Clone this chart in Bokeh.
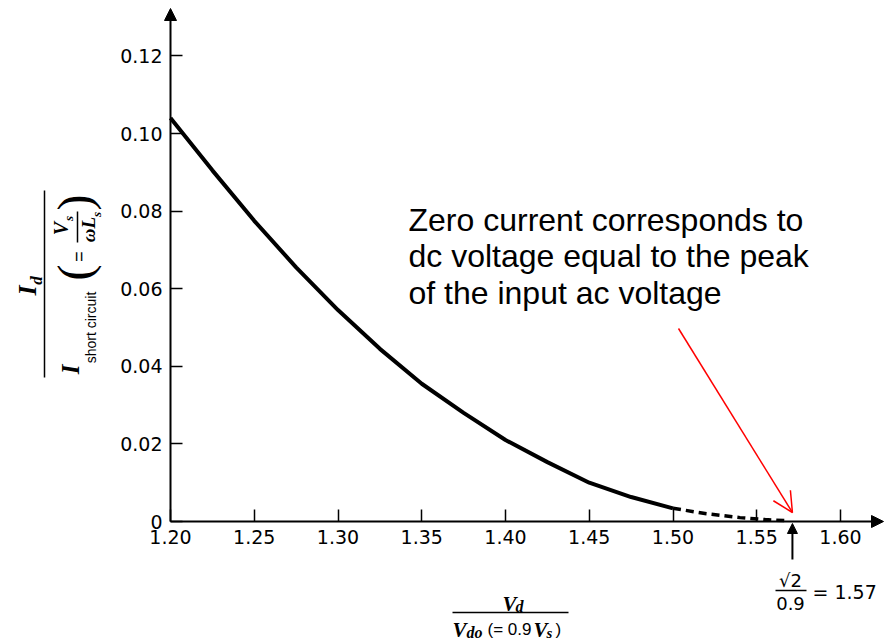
import numpy as np
from bokeh.plotting import figure
from bokeh.models import (Label, Arrow, NormalHead, OpenHead, FixedTicker,
                          PrintfTickFormatter, Range1d)
from bokeh.embed import file_html
from bokeh.resources import INLINE

# ---------------- data ----------------
vd_solid = [1.20, 1.225, 1.25, 1.275, 1.30, 1.325, 1.35, 1.375, 1.40, 1.425, 1.45, 1.475, 1.50]
id_solid = [0.104, 0.0905, 0.0775, 0.0655, 0.0545, 0.0445, 0.0355, 0.028, 0.021, 0.0153, 0.010, 0.0063, 0.0034]
vd_dash = [1.50, 1.52, 1.54, 1.555, 1.568]
id_dash = [0.0034, 0.0020, 0.0010, 0.0005, 0.0002]
x_ticks = [1.20, 1.25, 1.30, 1.35, 1.40, 1.45, 1.50, 1.55, 1.60]
y_ticks = [0, 0.02, 0.04, 0.06, 0.08, 0.10, 0.12]
peak_ratio = 1.5713  # sqrt(2)/0.9
note_lines = ["Zero current corresponds to",
              "dc voltage equal to the peak",
              "of the input ac voltage"]

# ---------------- layout (picture pixels -> data) ----------------
W, H = 888, 642
X0, X0_PX, X_PPU = 1.20, 170.0, 1675.0
Y0_PX, Y_PPU = 521.0, 3880.0


def X(px):
    return X0 + (px - X0_PX) / X_PPU


def Y(py):
    return (Y0_PX - py) / Y_PPU


p = figure(width=W, height=H, title=None,
           x_range=Range1d(X(0), X(W)), y_range=Range1d(Y(H), Y(0)),
           output_backend="svg", toolbar_location=None,
           min_border_left=0, min_border_right=0, min_border_top=0,
           min_border_bottom=0)
p.outline_line_color = None
p.background_fill_color = "white"
p.border_fill_color = "white"
p.grid.visible = False

TICK_FONT = "DejaVu Sans"
for ax in (p.xaxis[0], p.yaxis[0]):
    ax.axis_line_color = None
    ax.major_tick_in = 12
    ax.major_tick_out = 0
    ax.major_tick_line_color = "black"
    ax.major_tick_line_width = 1.5
    ax.minor_tick_line_color = None
    ax.major_label_text_font = TICK_FONT
    ax.major_label_text_font_size = "19px"
    ax.major_label_text_color = "black"

p.xaxis.fixed_location = 0
p.xaxis.ticker = FixedTicker(ticks=x_ticks)
p.xaxis.formatter = PrintfTickFormatter(format="%.2f")
p.xaxis.major_label_standoff = 8
p.yaxis.fixed_location = X0
p.yaxis.ticker = FixedTicker(ticks=y_ticks)
p.yaxis.formatter = PrintfTickFormatter(format="%.2f")
p.yaxis.major_label_overrides = {0: "0"}
p.yaxis.major_label_standoff = 8

# curve
p.line(vd_solid, id_solid, line_width=4, line_color="black")
p.line(vd_dash, id_dash, line_width=3.5, line_color="black", line_dash="8 5")

# axis lines with arrows
p.add_layout(Arrow(x_start=X0, y_start=0, x_end=X(883), y_end=0, line_width=2,
                   end=NormalHead(size=12, fill_color="black", line_color="black")))
p.add_layout(Arrow(x_start=X0, y_start=0, x_end=X0, y_end=Y(8), line_width=2,
                   end=NormalHead(size=12, fill_color="black", line_color="black")))

# annotation arrows
p.add_layout(Arrow(x_start=X(678), y_start=Y(328), x_end=peak_ratio, y_end=Y(512),
                   line_color="red", line_width=1.5,
                   end=OpenHead(size=20, line_color="red", line_width=1.5)))
p.add_layout(Arrow(x_start=peak_ratio, y_start=Y(559), x_end=peak_ratio, y_end=Y(523),
                   line_color="black", line_width=2,
                   end=NormalHead(size=10, fill_color="black", line_color="black")))

SERIF = "Liberation Serif"
SANS = "Liberation Sans"


def lab(px, py, text, size, font=SERIF, style="bold italic", align="center",
        baseline="middle", angle=0.0):
    p.add_layout(Label(x=X(px), y=Y(py), text=text, text_font=font,
                       text_font_style=style, text_font_size=f"{size}px",
                       text_align=align, text_baseline=baseline,
                       text_color="black", angle=angle))


def bar(px0, py0, px1, py1, w=1.5):
    p.add_layout(Arrow(x_start=X(px0), y_start=Y(py0), x_end=X(px1), y_end=Y(py1),
                       start=None, end=None, line_color="black", line_width=w))


# note text
for i, line in enumerate(note_lines):
    lab(408, 219 + 36.5 * i, line, 32, font=SANS, style="normal", align="left",
        baseline="middle")

# sqrt(2)/0.9 = 1.57
lab(790, 580, "\u221a2", 18, font=TICK_FONT, style="normal")
bar(775, 590, 806, 590)
lab(790, 603, "0.9", 18, font=TICK_FONT, style="normal")
lab(812, 591, "= 1.57", 19, font=TICK_FONT, style="normal", align="left")

# x-axis label  V_d / V_do(= 0.9 V_s)
lab(502, 603, "V", 21, align="left", baseline="alphabetic")
lab(515, 606, "d", 16, align="left", baseline="alphabetic")
bar(452, 612, 568, 612)
lab(452, 629, "V", 21, align="left", baseline="alphabetic")
lab(466, 632, "do", 16, align="left", baseline="alphabetic")
lab(487, 629, "(= 0.9", 17, font=SANS, style="normal", align="left", baseline="alphabetic")
lab(533, 629, "V", 21, align="left", baseline="alphabetic")
lab(546, 632, "s", 15, align="left", baseline="alphabetic")
lab(555, 629, ")", 17, font=SANS, style="normal", align="left", baseline="alphabetic")

# y-axis label (rotated)
A = np.pi / 2
lab(27, 290, "I", 26, angle=A)
lab(36, 280, "d", 17, angle=A)
bar(44, 190, 44, 377)
lab(70, 369, "I", 25, angle=A)
lab(90, 327, "short circuit", 14, font=SANS, style="normal", angle=A)
lab(74, 272, "(", 48, style="normal", angle=A)
lab(78, 256, "=", 18, font=SANS, style="normal", angle=A)
lab(60, 228, "V", 20, angle=A)
lab(68, 218, "s", 13, angle=A)
bar(77, 211, 77, 242)
lab(88, 229, "\u03c9L", 19, angle=A)
lab(96, 214, "s", 13, angle=A)
lab(74, 202, ")", 48, style="normal", angle=A)

open("out.html", "w").write(file_html(p, INLINE))
